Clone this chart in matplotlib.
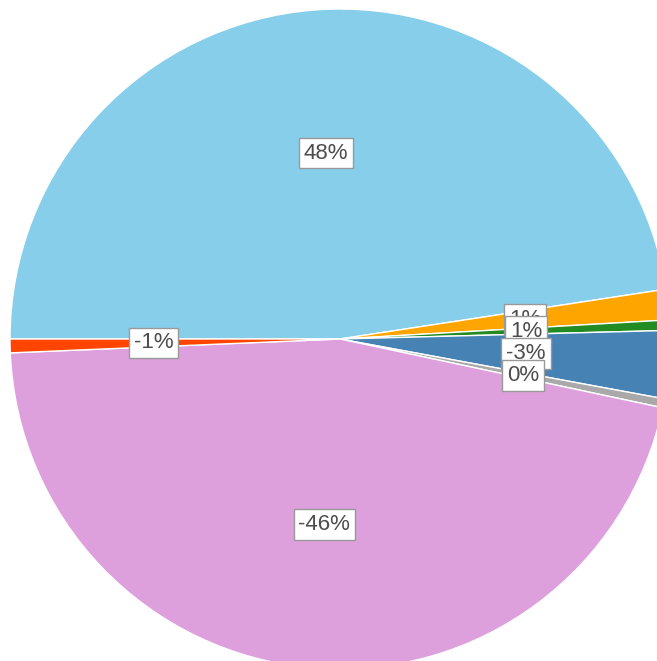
import matplotlib.pyplot as plt

# signed shares, drawn by absolute size, clockwise from 9 o'clock
names = ['A', 'B', 'C', 'D', 'E', 'F', 'G']
values = [47.6, 1.49, 0.51, -3.32, -0.44, -46.0, -0.67]
colors = ['#87ceeb', '#ffa500', '#228b22', '#4682b4', '#a9a9a9', '#dda0dd', '#ff4500']

sizes = [abs(v) for v in values]
total = sum(sizes)
labels = ['%d%%' % round(v / total * 100) if round(v / total * 100) != 0 else '0%' for v in values]

plt.rcParams['font.family'] = ['Liberation Sans', 'DejaVu Sans']

W, H = 657, 661
fig = plt.figure(figsize=(W / 100, H / 100), dpi=100)
cx, cy, r = 340, 339, 330
ax = fig.add_axes([(cx - r) / W, (H - cy - r) / H, 2 * r / W, 2 * r / H])

wedges, texts = ax.pie(sizes, colors=colors, labels=labels, startangle=180, counterclock=False,
                       labeldistance=0.565, radius=1,
                       wedgeprops=dict(edgecolor='white', linewidth=1),
                       textprops=dict(fontsize=16, color='#4d4d4d', ha='center', va='center'))
for t in texts:
    t.set_bbox(dict(facecolor='white', edgecolor='#999999', linewidth=1, boxstyle='square,pad=0.22'))

ax.set_xlim(-1, 1)
ax.set_ylim(-1, 1)
ax.axis('off')

plt.savefig('out.png', dpi=100)
